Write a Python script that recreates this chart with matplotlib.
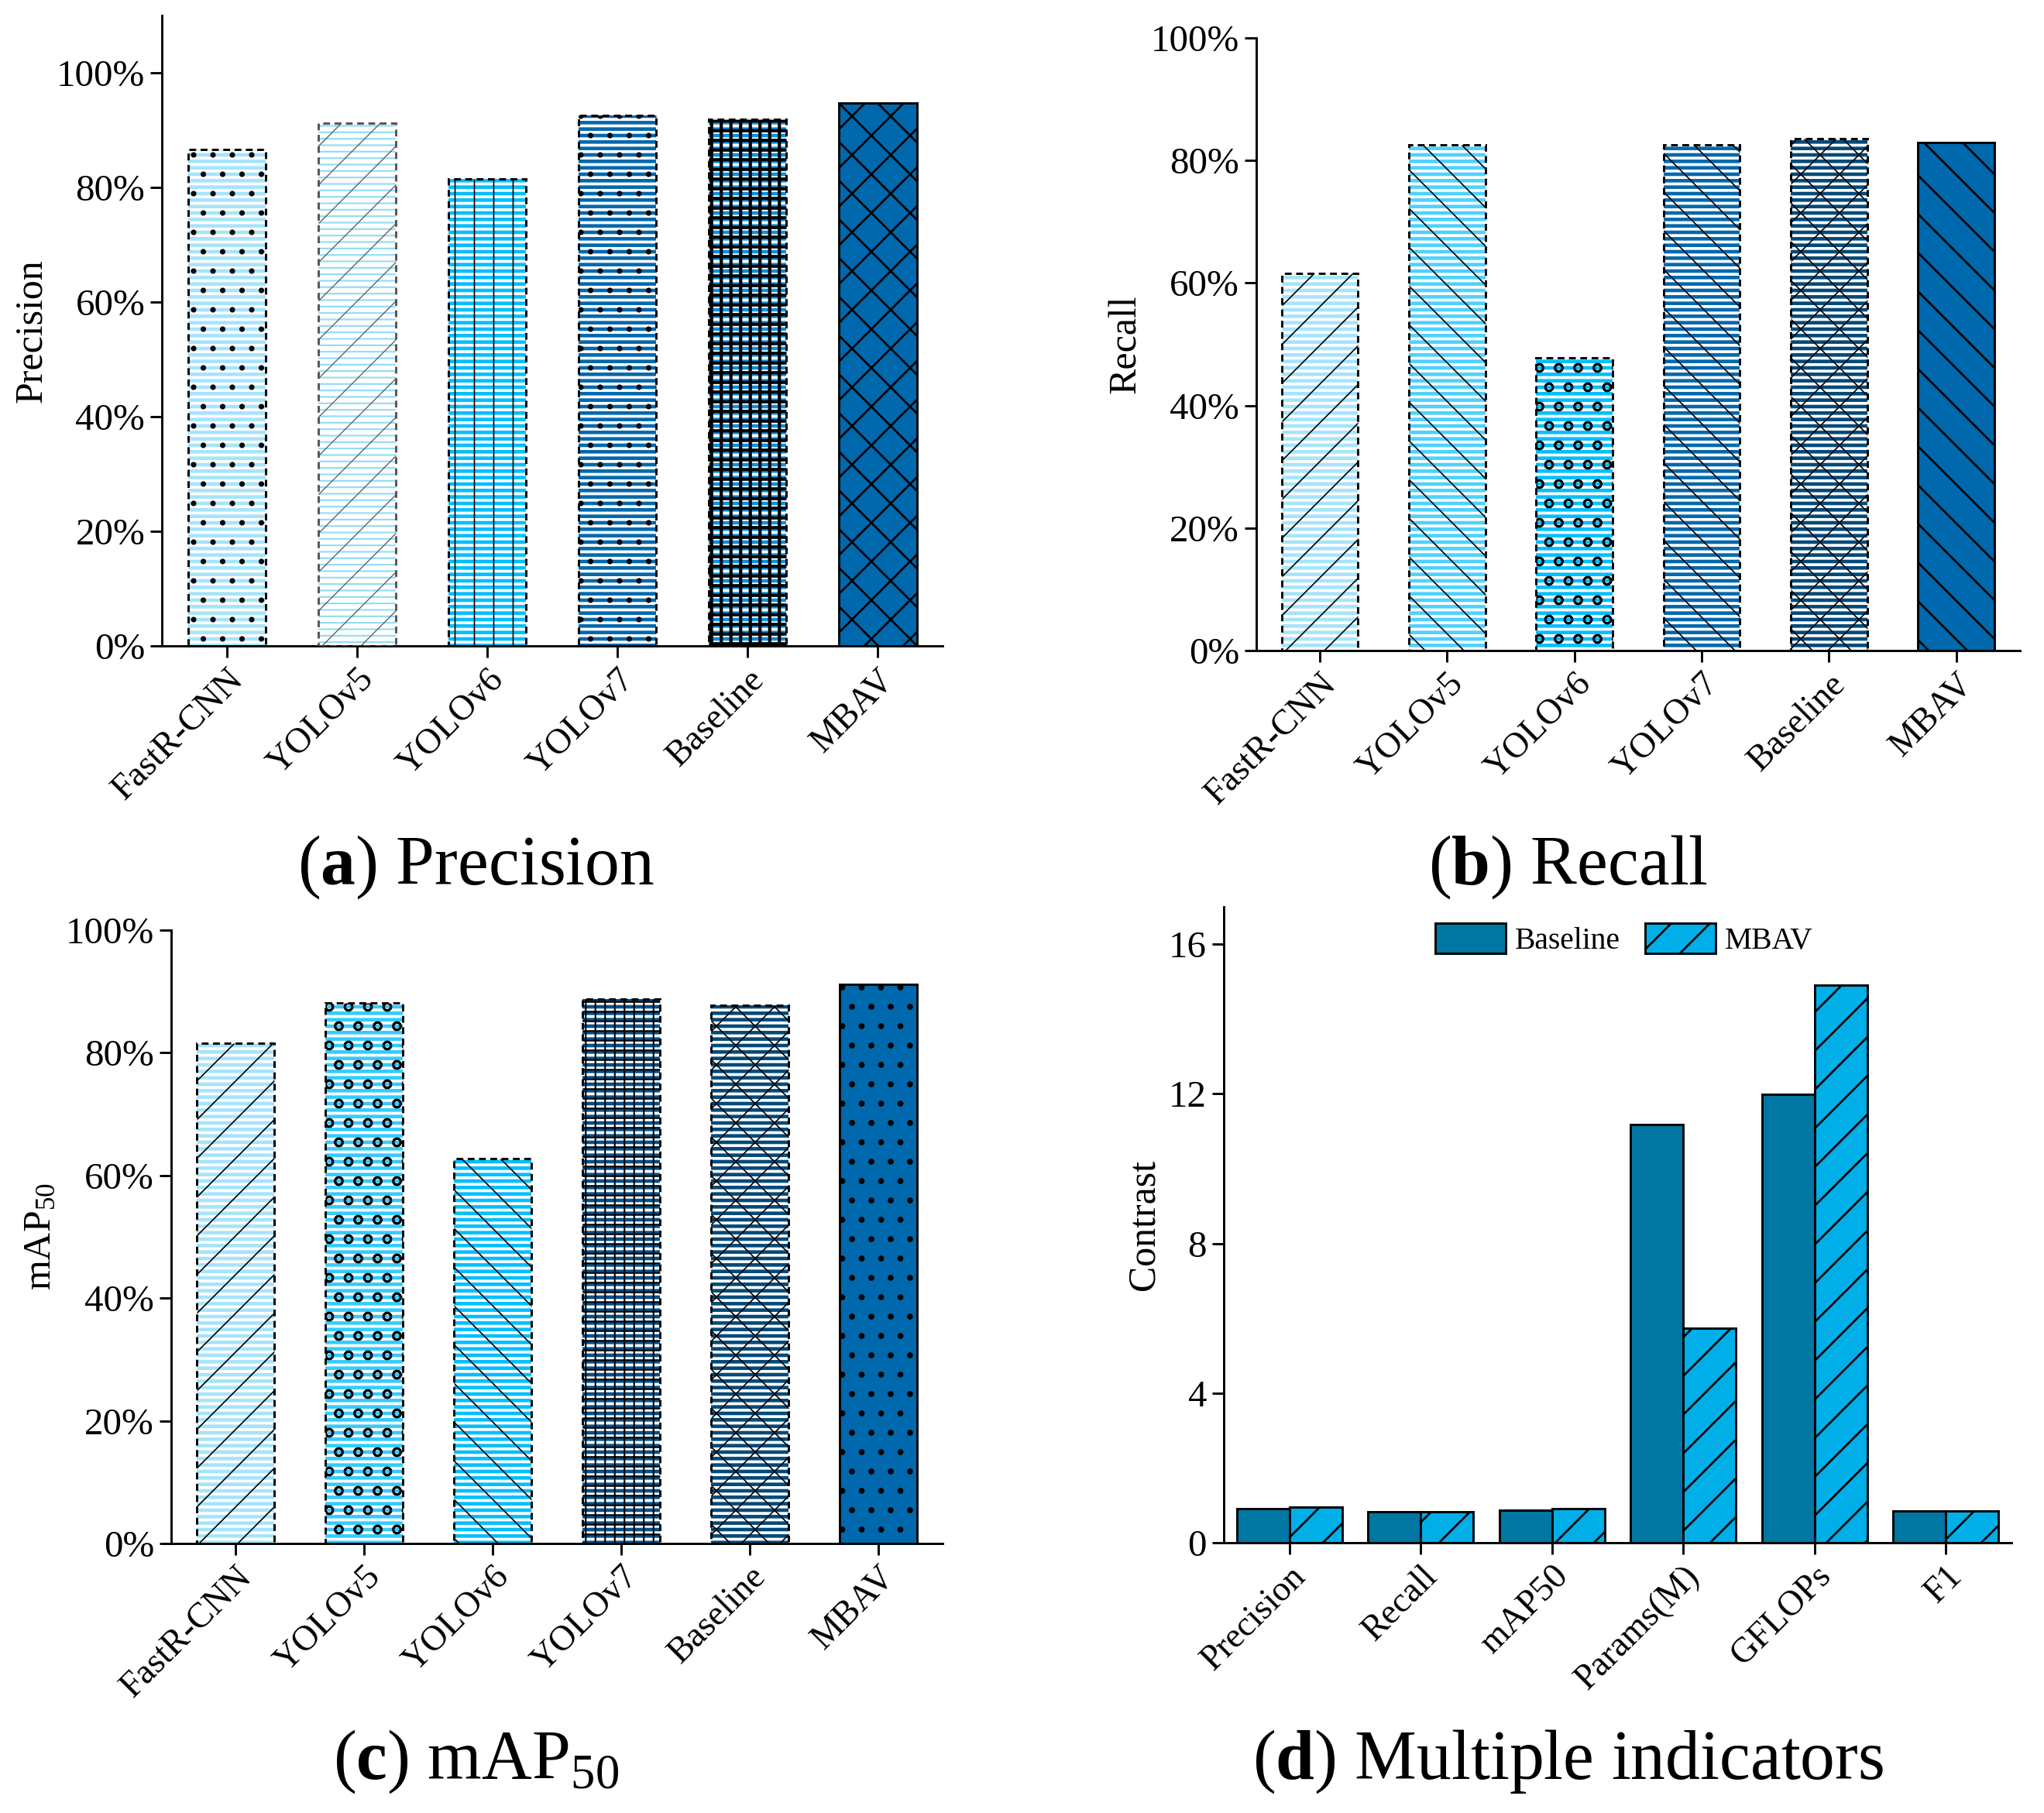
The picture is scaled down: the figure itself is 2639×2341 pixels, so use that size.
import matplotlib
matplotlib.use("Agg")
import matplotlib.pyplot as plt
from matplotlib.ticker import PercentFormatter
from matplotlib.patches import Patch
import numpy as np

plt.rcParams['font.family'] = ['Liberation Serif', 'DejaVu Serif']
plt.rcParams['mathtext.fontset'] = 'custom'
plt.rcParams['mathtext.rm'] = 'Liberation Serif'
plt.rcParams['mathtext.it'] = 'Liberation Serif:italic'
plt.rcParams['mathtext.bf'] = 'Liberation Serif:bold'
plt.rcParams['hatch.linewidth'] = 1.3

# ---------------- data ----------------
models = ['FastR-CNN', 'YOLOv5', 'YOLOv6', 'YOLOv7', 'Baseline', 'MBAV']
precision = [86.6, 91.3, 81.5, 92.6, 91.9, 94.8]
recall = [61.6, 82.6, 47.8, 82.6, 83.6, 82.9]
map50 = [81.6, 88.1, 62.7, 88.8, 87.7, 91.1]

indicators = ['Precision', 'Recall', 'mAP50', 'Params(M)', 'GFLOPs', 'F1']
baseline_vals = [0.914, 0.836, 0.877, 11.19, 11.98, 0.85]
mbav_vals = [0.946, 0.829, 0.911, 5.74, 14.9, 0.85]

# ---------------- styles ----------------
LB = '#a6e4fb'
C1 = '#4dd2ff'
CY = '#00bfff'
MB = '#0068ad'
DB = '#004a7a'
DB2 = '#00508a'

# (face, stripes?, black hatch, dashed border?, hatch lw)
style_a = [
    (LB, True, '.', True, 1.0),
    ('#ffffff', 'cyan', '/', True, 0.6),
    (CY, True, '|', True, 0.8),
    (MB, True, '.', True, 1.0),
    ('#0a90e0', True, '++', True, 2.0),
    (MB, False, 'x', False, 1.3),
]
style_b = [
    (LB, True, '/', True, 0.8),
    (C1, True, '\\', True, 0.8),
    (CY, True, 'o', True, 1.3),
    (MB, True, '\\', True, 0.8),
    (DB, True, 'x', True, 0.8),
    (MB, False, '\\', False, 1.3),
]
style_c = [
    (LB, True, '/', True, 0.8),
    ('#33ccff', True, 'o', True, 1.3),
    (CY, True, '\\', True, 0.8),
    (DB2, True, '++', True, 1.0),
    (DB, True, 'x', True, 0.8),
    (MB, False, '.', False, 1.3),
]

W, H = 2639, 2341
DPI = 150
fig = plt.figure(figsize=(W / DPI, H / DPI), dpi=DPI)


def set_hlw(patches, w):
    for p in patches:
        try:
            p.set_hatch_linewidth(w)
        except AttributeError:
            pass


def style_axes(ax):
    ax.spines['top'].set_visible(False)
    ax.spines['right'].set_visible(False)
    for s in ('left', 'bottom'):
        ax.spines[s].set_linewidth(1.4)
    ax.tick_params(axis='both', direction='out', width=1.4, length=7)
    ax.tick_params(axis='y', labelsize=23.5)
    ax.tick_params(axis='x', labelsize=22)


def pattern_panel(rect, values, styles, ylabel, ylim, caption, cap_xy):
    ax = fig.add_axes(rect)
    x = np.arange(len(models))
    for xi, v, st in zip(x, values, styles):
        face, stripes, hatch, dashed, hlw = st
        if stripes == 'cyan':
            bars = ax.bar(xi, v, 0.6, facecolor='#ffffff', edgecolor='#8fdcf7',
                          hatch='---', linewidth=0, zorder=2)
            set_hlw(bars, 1.0)
        elif stripes:
            bars = ax.bar(xi, v, 0.6, facecolor=face, edgecolor='white',
                          hatch='---', linewidth=0, zorder=2)
            set_hlw(bars, 1.8)
        else:
            ax.bar(xi, v, 0.6, facecolor=face, linewidth=0, zorder=2)
        ec = '#555555' if stripes == 'cyan' else 'black'
        bars = ax.bar(xi, v, 0.6, facecolor='none', edgecolor=ec, hatch=hatch,
                      linewidth=1.4, linestyle=(0, (3, 2)) if dashed else '-',
                      zorder=3)
        set_hlw(bars, hlw)
    ax.set_xlim(-0.5, len(models) - 0.5)
    ax.set_ylim(*ylim)
    ax.set_yticks(np.arange(0, 101, 20))
    ax.yaxis.set_major_formatter(PercentFormatter(decimals=0))
    ax.set_xticks(x)
    ax.set_xticklabels(models, rotation=45, ha='right', rotation_mode='anchor')
    ax.set_ylabel(ylabel, fontsize=24)
    style_axes(ax)
    fig.text(cap_xy[0], cap_xy[1], caption, fontsize=43, ha='center', va='center')
    return ax


pattern_panel([0.0792, 0.6437, 0.382, 0.3477], precision, style_a, 'Precision',
              (0, 110), r'($\mathbf{a}$) Precision', (0.233, 0.5216))
pattern_panel([0.6146, 0.6412, 0.3736, 0.3379], recall, style_b, 'Recall',
              (0, 100), r'($\mathbf{b}$) Recall', (0.767, 0.5216))
pattern_panel([0.0837, 0.1487, 0.3774, 0.3383], map50, style_c, r'mAP$_{50}$',
              (0, 100), r'($\mathbf{c}$) mAP$_{50}$', (0.233, 0.0282))

# panel d
axd = fig.add_axes([0.5987, 0.1491, 0.3854, 0.3507])
xd = np.arange(len(indicators))
BC = '#0076a3'
MC = '#00aee8'
axd.bar(xd - 0.2, baseline_vals, 0.4, facecolor=BC, edgecolor='black',
        linewidth=1.4, zorder=2)
bm = axd.bar(xd + 0.2, mbav_vals, 0.4, facecolor=MC, edgecolor='black',
             hatch='/', linewidth=1.4, zorder=2)
set_hlw(bm, 1.3)
axd.set_xlim(-0.5, len(indicators) - 0.5)
axd.set_ylim(0, 17)
axd.set_yticks([0, 4, 8, 12, 16])
axd.set_xticks(xd)
axd.set_xticklabels(indicators, rotation=45, ha='right', rotation_mode='anchor')
axd.set_ylabel('Contrast', fontsize=24)
style_axes(axd)
handles = [Patch(facecolor=BC, edgecolor='black', linewidth=1.4, label='Baseline'),
           Patch(facecolor=MC, edgecolor='black', linewidth=1.4, hatch='/', label='MBAV')]
axd.legend(handles=handles, loc='center', bbox_to_anchor=(0.508, 0.949), ncol=2,
           frameon=False, fontsize=19, handlelength=2.3, handleheight=1.15,
           handletextpad=0.3, columnspacing=0.8, borderaxespad=0)
fig.text(0.767, 0.0282, r'($\mathbf{d}$) Multiple indicators', fontsize=43,
         ha='center', va='center')

fig.savefig('out.png', dpi=DPI)
